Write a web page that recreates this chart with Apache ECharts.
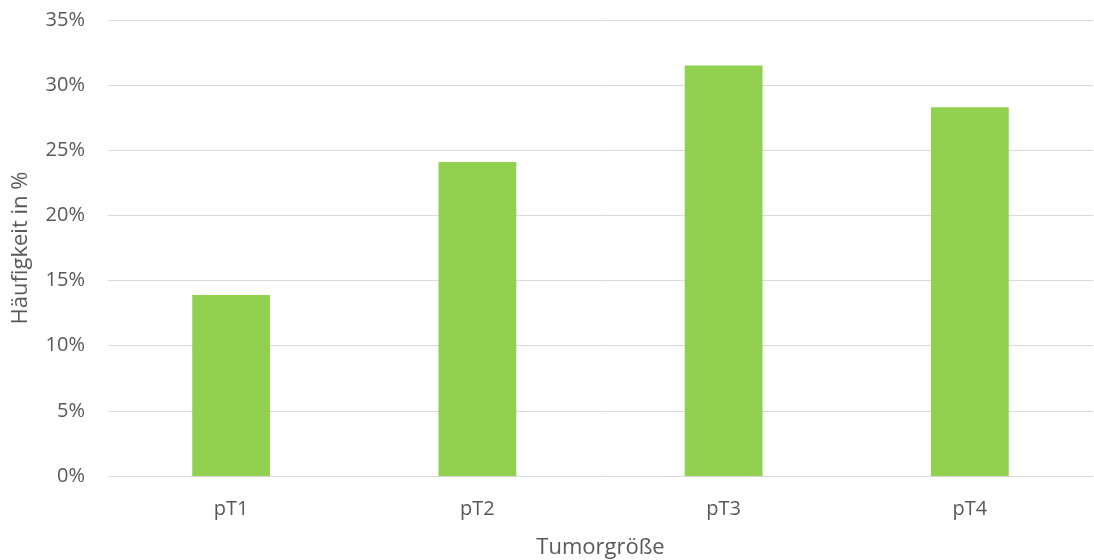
<!DOCTYPE html>
<html>
<head>
<meta charset="utf-8">
<script src="https://cdn.jsdelivr.net/npm/echarts@6/dist/echarts.min.js"></script>
<style>
  html, body { margin: 0; padding: 0; background: #fff; }
  #chart { width: 1094px; height: 560px; }
</style>
</head>
<body>
<div id="chart"></div>
<script>
// Share of cases per tumour stage (percent)
const categories = ['pT1', 'pT2', 'pT3', 'pT4'];
const frequency = [13.9, 24.1, 31.5, 28.3];
const yTicks = [0, 5, 10, 15, 20, 25, 30, 35];

const font = '"Open Sans", "Noto Sans", sans-serif';
const chart = echarts.init(document.getElementById('chart'));
chart.setOption({
  animation: false,
  grid: { left: 108, right: 1, top: 20, bottom: 84, containLabel: false, outerBoundsMode: 'none' },
  xAxis: {
    type: 'category',
    data: categories,
    name: 'Tumorgröße',
    nameLocation: 'middle',
    nameGap: 61,
    nameTextStyle: { color: '#595959', fontSize: 22, fontFamily: font },
    axisLine: { lineStyle: { color: '#d9d9d9', width: 1 } },
    axisTick: { show: false },
    axisLabel: { color: '#595959', fontSize: 20, fontFamily: font, margin: 23 }
  },
  yAxis: {
    type: 'value',
    min: yTicks[0],
    max: yTicks[yTicks.length - 1],
    interval: 5,
    name: 'Häufigkeit in %',
    nameLocation: 'middle',
    nameGap: 76,
    nameTextStyle: { color: '#595959', fontSize: 22, fontFamily: font },
    axisLine: { show: false },
    axisTick: { show: false },
    splitLine: { lineStyle: { color: '#d9d9d9', width: 1 } },
    axisLabel: { color: '#595959', fontSize: 20, fontFamily: font, margin: 23, formatter: v => v + '%' }
  },
  series: [{
    type: 'bar',
    data: frequency,
    barWidth: '31.6%',
    itemStyle: { color: '#92d050' }
  }]
});
</script>
</body>
</html>
